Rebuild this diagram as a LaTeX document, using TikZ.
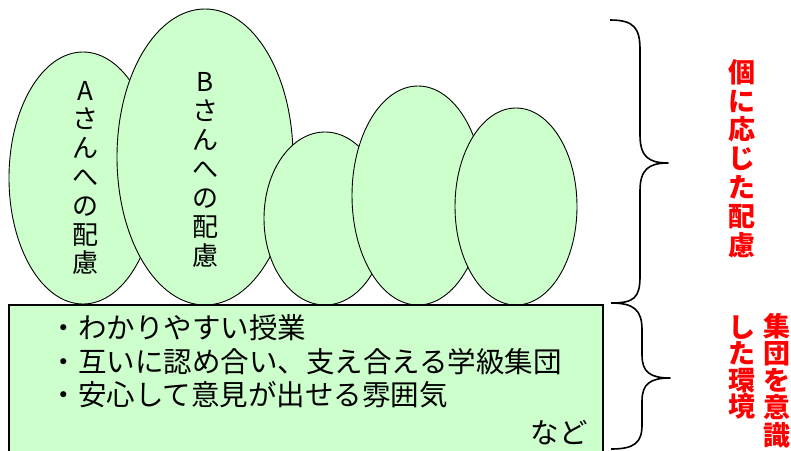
\documentclass[tikz,border=0pt]{standalone}
\usepackage{fontspec}
\setmainfont{Noto Sans CJK JP}
\usetikzlibrary{shapes.geometric}
\definecolor{lgreen}{HTML}{CCFFCC}
\definecolor{pred}{HTML}{FF0000}
\tikzset{
  ell/.style={ellipse, draw=black, line width=0.9pt, fill=lgreen, inner sep=0pt},
  envbox/.style={draw=black, line width=2pt, fill=lgreen},
  vch/.style={font=\fontsize{26pt}{26pt}\selectfont, inner sep=0pt, anchor=base},
  redch/.style={font=\fontsize{27pt}{27pt}\selectfont\bfseries, text=pred, inner sep=0pt, anchor=base},
  ltext/.style={font=\fontsize{28.5pt}{28.5pt}\selectfont, inner sep=0pt},
  bracest/.style={draw=black, line width=1.6pt, line join=round}
}
\begin{document}
\begin{tikzpicture}[x=1pt,y=-1pt]
\useasboundingbox (0,0) rectangle (791,450);
\clip (0,0) rectangle (791,450);
% ellipses
\node[ell, minimum width=148pt, minimum height=252pt] (ea) at (83,178) {};
\node[ell, minimum width=176pt, minimum height=296pt] (eb) at (205,157) {};
\node[ell, minimum width=122pt, minimum height=173pt] (ec) at (325,218.5) {};
\node[ell, minimum width=132pt, minimum height=219pt] (ed) at (418,195.5) {};
\node[ell, minimum width=122pt, minimum height=197pt] (ee) at (516,206.5) {};
% vertical texts in ellipses
\foreach \c [count=\i from 0] in {A,さ,ん,へ,の,配,慮}
  \node[vch] (ta\i) at (85,{100+28.8*\i}) {\c};
\foreach \c [count=\i from 0] in {B,さ,ん,へ,の,配,慮}
  \node[vch] (tb\i) at (205,{91+29*\i}) {\c};
% environment box
\draw[envbox] (9,305) rectangle (603,462);
\node[ltext, anchor=base west] (l1) at (49.5,338) {・わかりやすい授業};
\node[ltext, anchor=base west] (l2) at (49.5,372) {・互いに認め合い、支え合える学級集団};
\node[ltext, anchor=base west] (l3) at (49.5,405) {・安心して意見が出せる雰囲気};
\node[ltext, anchor=base east] (l4) at (588,443) {など};
% braces
\draw[bracest] (610,20) .. controls (634,20) and (640,28) .. (640,50)
  -- (640,135) .. controls (640,156) and (648,163) .. (668,163)
  .. controls (648,163) and (640,170) .. (640,191)
  -- (640,276) .. controls (640,298) and (634,303) .. (611,303);
\draw[bracest] (611,303) .. controls (634,303) and (642,310) .. (642,330)
  -- (642,355) .. controls (642,372) and (650,378) .. (670,378)
  .. controls (650,378) and (642,384) .. (642,401)
  -- (642,425) .. controls (642,443) and (634,449) .. (611,449);
% red labels
\foreach \c [count=\i from 0] in {個,に,応,じ,た,配,慮}
  \node[redch] (r\i) at (742,{82.3+28.8*\i}) {\c};
\foreach \c [count=\i from 0] in {集,団,を,意,識}
  \node[redch] (s\i) at (777,{336.3+27.2*\i}) {\c};
\foreach \c [count=\i from 0] in {し,た,環,境}
  \node[redch] (t\i) at (742,{337.3+26.5*\i}) {\c};
\end{tikzpicture}
\end{document}
